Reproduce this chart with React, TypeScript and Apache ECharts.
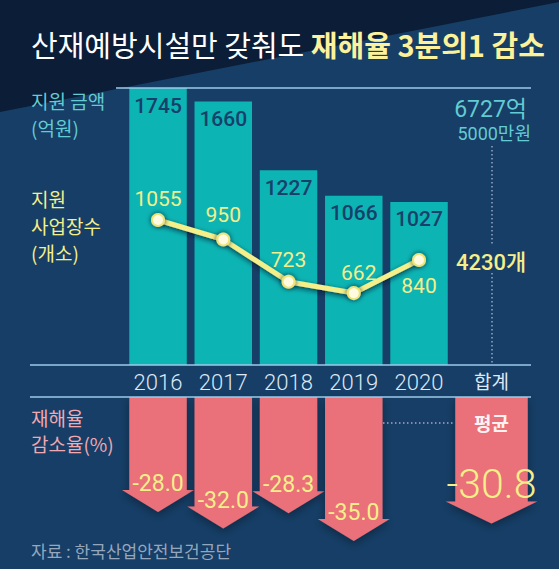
import React, { useEffect, useRef } from 'react';
import * as echarts from 'echarts';

// ---- data ----
const years = ['2016', '2017', '2018', '2019', '2020'];
const totalCategory = ['합계'];
const fundingBillionWon = [1745, 1660, 1227, 1066, 1027];
const supportedSites = [1055, 950, 723, 662, 840];
const accidentRateReduction = [-28.0, -32.0, -28.3, -35.0];
const averageReduction = [-30.8];
const totalFundingMain = '6727억';
const totalFundingSub = '5000만원';
const totalSites = '4230개';

// ---- styles ----
const KR = "'Noto Sans CJK KR', sans-serif";
const NUM = "Roboto, 'Noto Sans CJK KR', sans-serif";
const BG = '#163e66';
const BG_DARK = '#0b1d37';
const TEAL = '#0cb4b3';
const PINK = '#ea707a';
const YELLOW = '#f5ef8a';
const CYAN = '#62cbd3';
const LINE_BLUE = '#9ccbea';

function arrowRenderer(shaftRatio: number, headOver: number, headH: number, isTotal: boolean) {
  return (params: any, api: any) => {
    const xi = api.value(0);
    const v = api.value(1);
    const top = api.coord([xi, 0]);
    const tip = api.coord([xi, v]);
    const band = api.size([1, 0])[0];
    const sw = band * shaftRatio;
    const cx = top[0];
    const hs = tip[1] - headH;
    const points = [
      [cx - sw / 2, top[1]],
      [cx + sw / 2, top[1]],
      [cx + sw / 2, hs],
      [cx + sw / 2 + headOver, hs],
      [cx, tip[1]],
      [cx - sw / 2 - headOver, hs],
      [cx - sw / 2, hs],
    ];
    const children: any[] = [
      {
        type: 'polygon',
        shape: { points },
        style: { fill: PINK, shadowBlur: 8, shadowColor: 'rgba(0,0,0,0.35)', shadowOffsetY: 3 },
      },
    ];
    if (isTotal) {
      children.push({
        type: 'text',
        x: cx,
        y: top[1] + 25,
        style: { text: '평균', fill: '#fff2f2', fontSize: 19, fontWeight: 'bold', fontFamily: KR, align: 'center', verticalAlign: 'middle' },
      });
      children.push({
        type: 'text',
        x: cx,
        y: tip[1] - 40,
        style: { text: v.toFixed(1), fill: YELLOW, fontSize: 41, fontWeight: 300, fontFamily: NUM, align: 'center', verticalAlign: 'middle' },
      });
    } else {
      children.push({
        type: 'text',
        x: cx,
        y: tip[1] - 28.5,
        style: { text: v.toFixed(1), fill: YELLOW, fontSize: 23, fontFamily: NUM, align: 'center', verticalAlign: 'middle' },
      });
    }
    return { type: 'group', children };
  };
}

function buildOption(): any {
  const gLeft = 125.4;
  const gWidth = 326.25;
  const tLeft = 455;
  const tWidth = 73;
  const labelTweak = [
    { position: 'top', distance: 4, offset: [0, 0] },
    { position: 'top', distance: 7, offset: [0, 0] },
    { position: 'top', distance: 4, offset: [0, 0] },
    { position: 'top', distance: 3, offset: [5, 0] },
    { position: 'bottom', distance: 9, offset: [0, 0] },
  ];
  const lineStroke = (x1: number, y1: number, x2: number, y2: number, color: string, dash?: number[]) => ({
    type: 'line',
    z: 50,
    shape: { x1, y1, x2, y2 },
    style: { stroke: color, lineWidth: 1.3, lineDash: dash },
  });
  return {
    animation: false,
    backgroundColor: BG,
    grid: [
      { left: gLeft, top: 88, width: gWidth, height: 277 },
      { left: tLeft, top: 88, width: tWidth, height: 277 },
      { left: gLeft, top: 397, width: gWidth, height: 148 },
      { left: tLeft, top: 397, width: tWidth, height: 148 },
    ],
    xAxis: [
      {
        gridIndex: 0, type: 'category', data: years,
        axisLine: { show: false }, axisTick: { show: false },
        axisLabel: { color: '#dde9f6', fontSize: 22, fontWeight: 300, fontFamily: NUM, margin: 6 },
      },
      {
        gridIndex: 1, type: 'category', data: totalCategory,
        axisLine: { show: false }, axisTick: { show: false },
        axisLabel: { color: '#dde9f6', fontSize: 19, fontFamily: KR, margin: 6 },
      },
      { gridIndex: 2, type: 'category', data: years, show: false },
      { gridIndex: 3, type: 'category', data: totalCategory, show: false },
    ],
    yAxis: [
      { gridIndex: 0, type: 'value', min: 0, max: 1745, show: false },
      { gridIndex: 0, type: 'value', min: 275, max: 1765, show: false },
      { gridIndex: 1, type: 'value', min: 0, max: 1, show: false },
      { gridIndex: 2, type: 'value', min: -36, max: 0, show: false },
      { gridIndex: 3, type: 'value', min: -36, max: 0, show: false },
    ],
    series: [
      {
        type: 'bar', xAxisIndex: 0, yAxisIndex: 0,
        data: fundingBillionWon, barWidth: 57.5,
        itemStyle: { color: TEAL },
        label: { show: true, position: 'insideTop', distance: 7, color: '#17406a', fontSize: 21, fontWeight: 500, fontFamily: NUM },
        z: 2,
      },
      {
        type: 'line', xAxisIndex: 0, yAxisIndex: 1,
        data: supportedSites.map((v, i) => ({
          value: v,
          label: { position: labelTweak[i].position, distance: labelTweak[i].distance, offset: labelTweak[i].offset },
        })),
        symbol: 'circle', symbolSize: 12,
        lineStyle: { color: YELLOW, width: 5, shadowColor: 'rgba(5,20,45,0.8)', shadowBlur: 5, shadowOffsetY: 2 },
        itemStyle: { color: '#fffbe2', borderColor: '#efe47a', borderWidth: 2, shadowColor: 'rgba(5,20,45,0.8)', shadowBlur: 5 },
        label: { show: true, color: YELLOW, fontSize: 21, fontFamily: NUM },
        z: 5,
      },
      {
        type: 'custom', xAxisIndex: 2, yAxisIndex: 3,
        data: accidentRateReduction.map((v, i) => [i, v]),
        renderItem: arrowRenderer(57.5 / 65.25, 7.25, 22, false),
        z: 3,
      },
      {
        type: 'custom', xAxisIndex: 3, yAxisIndex: 4,
        data: averageReduction.map((v, i) => [i, v]),
        renderItem: arrowRenderer(72.5 / 73, 9.5, 22, true),
        z: 3,
      },
    ],
    graphic: [
      { type: 'polygon', z: -10, shape: { points: [[0, 0], [559, 0], [559, 2], [0, 112]] }, style: { fill: BG_DARK } },
      {
        type: 'text', z: 60, x: 31, y: 44,
        style: {
          text: '{a|산재예방시설만 갖춰도 }{b|재해율 3분의1 감소}',
          verticalAlign: 'middle',
          rich: {
            a: { fill: '#ffffff', fontSize: 29, fontFamily: KR },
            b: { fill: '#fbf29b', fontSize: 29, fontWeight: 'bold', fontFamily: KR },
          },
        },
      },
      lineStroke(116, 88, 531, 88, LINE_BLUE),
      lineStroke(30, 365, 531, 365, LINE_BLUE),
      lineStroke(30, 397, 531, 397, LINE_BLUE),
      lineStroke(492, 146, 492, 246, '#a9b8d0', [1.5, 2.5]),
      lineStroke(492, 273, 492, 364, '#a9b8d0', [1.5, 2.5]),
      lineStroke(383, 423, 455, 423, '#b0a2c4', [1.5, 2.5]),
      { type: 'text', z: 60, x: 31, y: 100, style: { text: '지원 금액', fill: CYAN, fontSize: 19, fontFamily: KR, verticalAlign: 'middle' } },
      { type: 'text', z: 60, x: 31, y: 127, style: { text: '(억원)', fill: CYAN, fontSize: 19, fontFamily: KR, verticalAlign: 'middle' } },
      { type: 'text', z: 60, x: 31, y: 198, style: { text: '지원', fill: YELLOW, fontSize: 19, fontFamily: KR, verticalAlign: 'middle' } },
      { type: 'text', z: 60, x: 31, y: 225, style: { text: '사업장수', fill: YELLOW, fontSize: 19, fontFamily: KR, verticalAlign: 'middle' } },
      { type: 'text', z: 60, x: 31, y: 252, style: { text: '(개소)', fill: YELLOW, fontSize: 19, fontFamily: KR, verticalAlign: 'middle' } },
      { type: 'text', z: 60, x: 527, y: 109, style: { text: totalFundingMain, fill: CYAN, fontSize: 23, fontFamily: NUM, align: 'right', verticalAlign: 'middle' } },
      { type: 'text', z: 60, x: 531, y: 133, style: { text: totalFundingSub, fill: CYAN, fontSize: 18, fontFamily: NUM, align: 'right', verticalAlign: 'middle' } },
      { type: 'text', z: 60, x: 491, y: 262, style: { text: totalSites, fill: YELLOW, fontSize: 22, fontWeight: 500, fontFamily: NUM, align: 'center', verticalAlign: 'middle' } },
      { type: 'text', z: 60, x: 31, y: 417, style: { text: '재해율', fill: '#f2a8b0', fontSize: 19, fontFamily: KR, verticalAlign: 'middle' } },
      { type: 'text', z: 60, x: 31, y: 443, style: { text: '감소율(%)', fill: '#f2a8b0', fontSize: 19, fontFamily: KR, verticalAlign: 'middle' } },
      { type: 'text', z: 60, x: 31, y: 550, style: { text: '자료 : 한국산업안전보건공단', fill: '#95a7bd', fontSize: 17, fontFamily: KR, verticalAlign: 'middle' } },
    ],
  };
}

export default function App() {
  const ref = useRef<HTMLDivElement>(null);
  useEffect(() => {
    if (!ref.current) return;
    const chart = echarts.init(ref.current, undefined, { renderer: 'svg' });
    chart.setOption(buildOption());
    return () => chart.dispose();
  }, []);
  return <div ref={ref} style={{ position: 'fixed', left: 0, top: 0, width: 559, height: 569 }} />;
}
